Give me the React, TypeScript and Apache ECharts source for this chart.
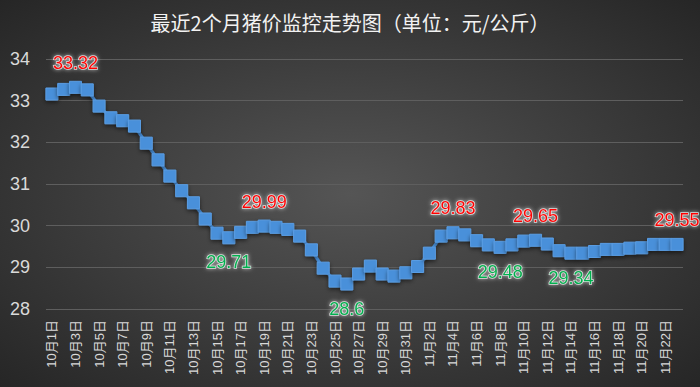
import React, { useEffect, useRef } from "react";
import * as echarts from "echarts";

const TITLE = "最近2个月猪价监控走势图（单位：元/公斤）";

const octDays: number[] = Array.from({ length: 31 }, (_, i) => i + 1);
const novDays: number[] = Array.from({ length: 23 }, (_, i) => i + 1);
const categories: string[] = [
  ...octDays.map((d) => `10月${d}日`),
  ...novDays.map((d) => `11月${d}日`),
];

const prices: number[] = [
  33.16, 33.27, 33.32, 33.26, 32.87, 32.59, 32.52, 32.39, 31.98, 31.58,
  31.19, 30.84, 30.55, 30.16, 29.82, 29.71, 29.84, 29.96, 29.99, 29.96,
  29.91, 29.75, 29.42, 28.98, 28.67, 28.6, 28.84, 29.03, 28.84, 28.79,
  28.87, 29.02, 29.34, 29.75, 29.83, 29.78, 29.64, 29.54, 29.48, 29.54,
  29.63, 29.65, 29.56, 29.4, 29.34, 29.34, 29.38, 29.43, 29.43, 29.46,
  29.47, 29.55, 29.55, 29.55,
];

// indices of highlighted highs (red, above) and lows (green, below)
const highIdx: number[] = [2, 18, 34, 41, 53];
const lowIdx: number[] = [15, 25, 38, 44];

const yTicks: number[] = [28, 29, 30, 31, 32, 33, 34];

export default function App() {
  const ref = useRef<HTMLDivElement>(null);

  useEffect(() => {
    document.body.style.margin = "0";
    if (!ref.current) return;
    const chart = echarts.init(ref.current, null, { renderer: "svg" });

    const labelBase = {
      show: true,
      fontSize: 18,
      fontFamily: "'Liberation Sans', Arial, sans-serif",
      textBorderColor: "rgba(255,255,255,0.75)",
      textBorderWidth: 1.5,
      textShadowColor: "rgba(255,255,255,0.7)",
      textShadowBlur: 4,
      distance: 9,
    };

    const data = prices.map((v, i) => {
      if (highIdx.includes(i)) {
        return {
          value: v,
          label: {
            ...labelBase,
            position: "top",
            color: "#ff0000",
            offset: i === prices.length - 1 ? [-6, 0] : [0, 0],
          },
        };
      }
      if (lowIdx.includes(i)) {
        return {
          value: v,
          label: { ...labelBase, position: "bottom", color: "#00b050" },
        };
      }
      return v;
    });

    chart.setOption({
      animation: false,
      backgroundColor: {
        type: "radial",
        x: 0.5,
        y: 0.5,
        r: 0.75,
        colorStops: [
          { offset: 0, color: "#555555" },
          { offset: 1, color: "#232323" },
        ],
      },
      title: {
        text: TITLE,
        left: "center",
        top: 7,
        textStyle: {
          color: "#f2f2f2",
          fontSize: 20,
          fontWeight: "normal",
          fontFamily: "'Noto Sans CJK SC', sans-serif",
        },
      },
      grid: { left: 46, right: 17, top: 59, bottom: 78 },
      xAxis: {
        type: "category",
        data: categories,
        boundaryGap: true,
        axisLine: { show: false },
        axisTick: { show: false },
        axisLabel: {
          interval: 1,
          rotate: 90,
          margin: 11,
          color: "#d9d9d9",
          fontSize: 13,
          fontFamily: "'Liberation Sans', 'Noto Sans CJK SC', sans-serif",
        },
      },
      yAxis: {
        type: "value",
        min: yTicks[0],
        max: yTicks[yTicks.length - 1],
        interval: 1,
        axisLine: { show: false },
        axisTick: { show: false },
        axisLabel: {
          color: "#d9d9d9",
          fontSize: 18,
          margin: 16,
          fontFamily: "'Liberation Sans', Arial, sans-serif",
        },
        splitLine: { lineStyle: { color: "#5e5e5e", width: 1 } },
      },
      series: [
        {
          type: "line",
          data,
          symbol: "rect",
          symbolSize: 12,
          showAllSymbol: true,
          lineStyle: {
            color: "#4a8fd8",
            width: 3,
            shadowColor: "rgba(0,0,0,0.5)",
            shadowBlur: 4,
            shadowOffsetY: 2,
          },
          itemStyle: {
            color: "#4a90da",
            borderColor: "#5a9de3",
            borderWidth: 1,
            shadowColor: "rgba(0,0,0,0.5)",
            shadowBlur: 4,
            shadowOffsetY: 2,
          },
          label: { show: false },
          labelLayout: { hideOverlap: false },
          emphasis: { disabled: true },
        },
      ],
    });

    return () => chart.dispose();
  }, []);

  return <div ref={ref} style={{ width: 700, height: 387 }} />;
}
